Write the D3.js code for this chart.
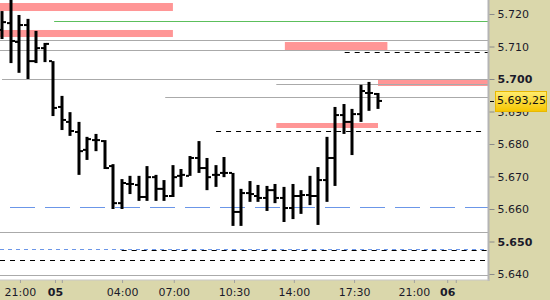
<!DOCTYPE html>
<html><head><meta charset="utf-8">
<script src="https://cdn.jsdelivr.net/npm/d3@7"></script>
<style>body{margin:0;background:#fff}svg{display:block}</style>
</head><body><svg id="c" width="550" height="300"></svg>
<script>
// ---- data ----
const openV  = [5.7151,5.7172,5.7114,5.7166,5.7055,5.7095,5.7055,5.6914,5.6868,5.6837,5.6782,5.6812,5.6809,5.6732,5.6618,5.6677,5.6674,5.6637,5.6698,5.6662,5.6640,5.6702,5.6702,5.6757,5.6726,5.6705,5.6711,5.6711,5.6591,5.6649,5.6640,5.6634,5.6658,5.6634,5.6603,5.6640,5.6643,5.6640,5.6689,5.6757,5.6889,5.6868,5.6892,5.6957,5.6954];
const highV  = [5.7209,5.7245,5.7197,5.7185,5.7148,5.7111,5.7055,5.6948,5.6898,5.6868,5.6822,5.6831,5.6812,5.6738,5.6692,5.6702,5.6702,5.6732,5.6705,5.6689,5.6735,5.6723,5.6763,5.6809,5.6757,5.6735,5.6760,5.6711,5.6662,5.6686,5.6674,5.6671,5.6677,5.6668,5.6677,5.6658,5.6702,5.6729,5.6822,5.6914,5.6923,5.6908,5.6982,5.6991,5.6957];
const lowV   = [5.7123,5.7049,5.7019,5.7000,5.7049,5.7052,5.6886,5.6843,5.6825,5.6705,5.6751,5.6778,5.6723,5.6600,5.6600,5.6646,5.6625,5.6625,5.6625,5.6625,5.6637,5.6668,5.6702,5.6711,5.6658,5.6668,5.6698,5.6548,5.6548,5.6622,5.6622,5.6594,5.6618,5.6560,5.6569,5.6585,5.6612,5.6551,5.6622,5.6671,5.6831,5.6766,5.6868,5.6902,5.6908];
const closeV = [5.7175,5.7117,5.7166,5.7055,5.7095,5.7108,5.6911,5.6874,5.6840,5.6778,5.6815,5.6812,5.6726,5.6618,5.6680,5.6677,5.6637,5.6698,5.6662,5.6640,5.6698,5.6705,5.6757,5.6726,5.6698,5.6705,5.6711,5.6591,5.6649,5.6646,5.6634,5.6658,5.6634,5.6603,5.6640,5.6643,5.6640,5.6689,5.6757,5.6889,5.6868,5.6892,5.6963,5.6957,5.69325];
const lastPrice = 5.69325;
const lastLabel = "5.693,25";

const yTicks = [5.640,5.650,5.660,5.670,5.680,5.690,5.700,5.710,5.720];
const yBold = [5.650,5.700];
const xTickPos = [2.1,6.2,7.0,14.05,20.1,27.15,34.15,41.2,48.2,52.1,53.1];
const xTickLabels = ["21:00","05","","04:00","07:00","10:30","14:00","17:30","21:00","06",""];
const xBold = ["05","06"];

// level lines: price, start index, end index, kind
const levelPrice = [5.71785,5.7120,5.70892,5.7000,5.69846,5.69446,5.65292,5.63969,5.70831,5.6840,5.66062,5.64769,5.64738,5.64431];
const levelFrom  = [6.1,-1,-1,0,32.1,19.1,-1,-1,40.1,25.05,-1,-1,14,-1];
const levelTo    = [99,99,99,99,99,99,99,99,99,56.2,99,99,99,99];
const levelKind  = ["green","gray","gray","gray","gray","gray","gray","gray","blackdash","blackdash","bluelong","blueshort","blackdash","blackdash"];

// zones: top price, bottom price, start index, end index
const zoneTop  = [5.72338,5.71508,5.71138,5.69969,5.68646];
const zoneBot  = [5.72092,5.71292,5.70892,5.69785,5.68492];
const zoneFrom = [-1,-1,33.1,44,32.1];
const zoneTo   = [20,20,45.1,99,44];

// ---- layout ----
const W=550,H=300, plotR=488, plotB=280;
const svg=d3.select("#c");
const x=d3.scaleLinear().domain([0,44]).range([2,378]);
const y=d3.scaleLinear().domain([5.720,5.640]).range([14,274]);

svg.append("defs").append("clipPath").attr("id","pc").append("rect")
  .attr("x",0).attr("y",0).attr("width",plotR).attr("height",plotB);
const g=svg.append("g").attr("clip-path","url(#pc)");
g.append("rect").attr("width",plotR).attr("height",plotB).attr("fill","#fff");

// zones
g.selectAll(".zone").data(zoneTop.map((t,i)=>i)).join("rect")
  .attr("x",i=>Math.max(0,x(zoneFrom[i])))
  .attr("width",i=>Math.min(plotR,x(zoneTo[i]))-Math.max(0,x(zoneFrom[i])))
  .attr("y",i=>y(zoneTop[i])).attr("height",i=>y(zoneBot[i])-y(zoneTop[i]))
  .attr("fill","#ff9696");

// levels
const styles={
  green:{c:"#5cbf5c",d:null},
  gray:{c:"#aaaaaa",d:null},
  blackdash:{c:"#000",d:"5,5"},
  bluelong:{c:"#6b96e8",d:"25,10"},
  blueshort:{c:"#6b96e8",d:"4,4"}
};
g.selectAll(".lvl").data(levelPrice.map((p,i)=>i)).join("line")
  .attr("x1",i=>levelFrom[i]<0?0:x(levelFrom[i]))
  .attr("x2",i=>Math.min(plotR,x(levelTo[i])))
  .attr("y1",i=>Math.round(y(levelPrice[i]))+0.5)
  .attr("y2",i=>Math.round(y(levelPrice[i]))+0.5)
  .attr("stroke",i=>styles[levelKind[i]].c)
  .attr("stroke-width",1)
  .attr("stroke-dasharray",i=>styles[levelKind[i]].d)
  .attr("stroke-dashoffset",i=>levelKind[i]==="bluelong"?25:0);

// OHLC bars
const idx=openV.map((d,i)=>i);
const bg=g.append("g").attr("fill","#000");
bg.selectAll(".hl").data(idx).join("rect")
  .attr("x",i=>Math.round(x(i))-1.5).attr("width",3)
  .attr("y",i=>y(highV[i])).attr("height",i=>Math.max(2,y(lowV[i])-y(highV[i])));
bg.selectAll(".op").data(idx).join("rect")
  .attr("x",i=>Math.round(x(i))-4).attr("width",3)
  .attr("y",i=>y(openV[i])-1).attr("height",2);
bg.selectAll(".cl").data(idx).join("rect")
  .attr("x",i=>Math.round(x(i))+1).attr("width",3)
  .attr("y",i=>y(closeV[i])-1).attr("height",2);

// panels
svg.append("rect").attr("x",plotR).attr("y",0).attr("width",W-plotR).attr("height",H).attr("fill","#dad7ab");
svg.append("rect").attr("x",0).attr("y",plotB).attr("width",W).attr("height",H-plotB).attr("fill","#dad7ab");
svg.append("line").attr("x1",plotR+0.5).attr("x2",plotR+0.5).attr("y1",0).attr("y2",plotB+1)
  .attr("stroke","#b4b4b4").attr("stroke-width",2);
svg.append("line").attr("x1",0).attr("x2",plotR+1).attr("y1",plotB).attr("y2",plotB)
  .attr("stroke","#c8c8c8").attr("stroke-width",1);

const font="'DejaVu Sans', Verdana, sans-serif";
// right axis
const ya=svg.append("g").attr("transform",`translate(${plotR+1.5},0)`)
  .call(d3.axisRight(y).tickValues(yTicks).tickFormat(d3.format(".3f")).tickSize(5).tickPadding(3));
ya.select(".domain").remove();
ya.selectAll(".tick line").attr("stroke","#8a8a8a");
ya.selectAll(".tick text").attr("fill","#1a1a2a").style("font-family",font).style("font-size","11px")
  .style("font-weight",d=>yBold.some(b=>Math.abs(b-d)<1e-6)?"bold":"normal");

// bottom axis
const xa=svg.append("g").attr("transform",`translate(0,${plotB})`)
  .call(d3.axisBottom(x).tickValues(xTickPos).tickFormat((d,i)=>xTickLabels[i]).tickSize(3).tickPadding(5));
xa.select(".domain").remove();
xa.selectAll(".tick line").attr("stroke","#a0a0a0");
xa.selectAll(".tick text").attr("fill","#1a1a2a").style("font-family",font).style("font-size","11px")
  .style("font-weight",(d,i)=>xBold.includes(xTickLabels[i])?"bold":"normal");

// last price label
const grad=svg.append("defs").append("linearGradient").attr("id","yg").attr("x1",0).attr("x2",0).attr("y1",0).attr("y2",1);
grad.append("stop").attr("offset","0%").attr("stop-color","#ffec70");
grad.append("stop").attr("offset","100%").attr("stop-color","#f6c600");
const ly=y(lastPrice);
svg.append("line").attr("x1",plotR+2).attr("x2",plotR+6).attr("y1",Math.round(ly)+0.5).attr("y2",Math.round(ly)+0.5).attr("stroke","#000");
svg.append("rect").attr("x",495.5).attr("y",Math.round(ly)-9.5).attr("width",51).attr("height",20)
  .attr("fill","url(#yg)").attr("stroke","#e8b800");
svg.append("text").attr("x",497).attr("y",ly+0.5).attr("dominant-baseline","middle")
  .attr("fill","#111").style("font-family",font).style("font-size","11px").text(lastLabel);
</script></body></html>
